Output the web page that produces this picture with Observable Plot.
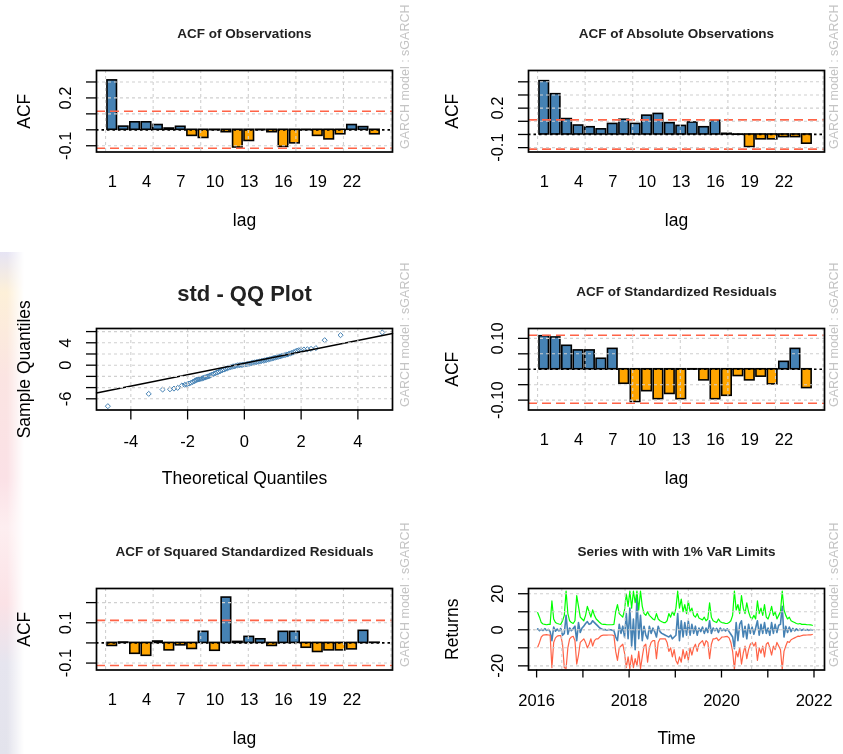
<!DOCTYPE html>
<html><head><meta charset="utf-8">
<script src="https://cdn.jsdelivr.net/npm/d3@7"></script>
<script src="https://cdn.jsdelivr.net/npm/@observablehq/plot@0.6"></script>
<style>
html,body{margin:0;padding:0;background:#fff;overflow:hidden}
#wrap{position:relative;width:843px;height:754px;overflow:hidden;background:#fff;filter:blur(0.3px)}
.panel{position:absolute}
.panel svg{overflow:visible;max-width:none !important}
#edge{position:absolute;left:0;top:252px;width:24px;height:502px;
 background:linear-gradient(#e6e4f4 0%,#fdf0d8 8%,#fbe4e2 25%,#fbe1e6 45%,#fdeef0 55%,#fbe2e6 70%,#e6e5ef 82%,#e3e3ec 100%);
 -webkit-mask-image:linear-gradient(to right,#000 30%,transparent);mask-image:linear-gradient(to right,#000 30%,transparent)}
</style></head><body><div id="wrap"><div id="edge"></div></div>
<script>
// ---------- data ----------
const lags = [1,2,3,4,5,6,7,8,9,10,11,12,13,14,15,16,17,18,19,20,21,22,23,24];
const lagLabels = [1,4,7,10,13,16,19,22];

const acfObs = [0.31,0.02,0.047,0.047,0.03,0.008,0.019,-0.038,-0.051,-0.002,-0.015,-0.111,-0.07,-0.002,-0.015,-0.107,-0.085,-0.002,-0.038,-0.06,-0.028,0.03,0.017,-0.028];
const acfAbs = [0.405,0.306,0.117,0.068,0.055,0.039,0.08,0.112,0.08,0.143,0.156,0.086,0.065,0.091,0.055,0.104,0.005,-0.002,-0.096,-0.037,-0.037,-0.02,-0.02,-0.07];
const acfStd = [0.107,0.103,0.076,0.061,0.061,0.034,0.066,-0.047,-0.106,-0.071,-0.097,-0.08,-0.097,-0.001,-0.036,-0.097,-0.086,-0.022,-0.036,-0.024,-0.049,0.024,0.066,-0.061];
const acfSq  = [-0.015,0.002,-0.054,-0.064,0.007,-0.037,-0.012,-0.03,0.055,-0.039,0.225,0.005,0.03,0.018,-0.015,0.055,0.055,-0.024,-0.045,-0.037,-0.037,-0.032,0.06,0.001];
const confObs = 0.116, confAbs = 0.111, confStd = 0.110, confSq = 0.112;

const acfObsTicks = [-0.1,0,0.1,0.2,0.3], acfObsLabVals = [-0.1,0.2], acfObsLabs = ["-0.1","0.2"];
const acfAbsTicks = [-0.1,0,0.1,0.2,0.3,0.4], acfAbsLabVals = [-0.1,0.2], acfAbsLabs = ["-0.1","0.2"];
const acfStdTicks = [-0.1,-0.05,0,0.05,0.1], acfStdLabVals = [-0.1,0.1], acfStdLabs = ["-0.10","0.10"];
const acfSqTicks = [-0.1,0,0.1,0.2], acfSqLabVals = [-0.1,0.1], acfSqLabs = ["-0.1","0.1"];

// QQ plot (theoretical vs sample quantiles)
const qqTheo = [-4.81,-3.37,-2.88,-2.62,-2.48,-2.35,-2.2,-2.1,-2.02,-1.95,-1.88,-1.82,-1.76,-1.72,-1.68,-1.64,-1.6,-1.56,-1.52,-1.48,-1.44,-1.4,-1.36,-1.32,-1.28,-1.24,-1.2,-1.14,-1.08,-1.02,-0.96,-0.9,-0.84,-0.78,-0.72,-0.66,-0.6,-0.54,-0.48,-0.42,-0.36,-0.3,-0.24,-0.18,-0.12,-0.06,0,0.06,0.12,0.18,0.24,0.3,0.36,0.42,0.48,0.54,0.6,0.66,0.72,0.78,0.84,0.9,0.96,1.02,1.08,1.14,1.2,1.26,1.32,1.38,1.44,1.5,1.56,1.62,1.68,1.74,1.8,1.86,1.92,2.0,2.1,2.22,2.35,2.52,2.83,3.39,4.86];
const qqSample = [-7.32,-5.12,-4.35,-4.3,-4.18,-4.05,-3.62,-3.5,-3.4,-3.28,-3.15,-3.0,-2.85,-2.7,-2.62,-2.55,-2.5,-2.45,-2.4,-2.35,-2.28,-2.22,-2.15,-2.08,-2.0,-1.92,-1.82,-1.7,-1.57,-1.43,-1.3,-1.17,-1.04,-0.9,-0.78,-0.66,-0.55,-0.45,-0.36,-0.27,-0.2,-0.12,-0.04,0.0,0.03,0.07,0.11,0.16,0.22,0.29,0.37,0.43,0.49,0.55,0.6,0.67,0.74,0.8,0.87,0.94,1.01,1.08,1.17,1.26,1.33,1.41,1.5,1.58,1.66,1.74,1.82,1.9,2.0,2.1,2.2,2.3,2.45,2.6,2.68,2.75,2.8,2.85,2.92,3.05,4.46,5.36,5.84];
const qqLineIntercept = 0.35, qqLineSlope = 1.017;
const qqXDomain = [-5.21,5.22], qqYDomain = [-8.0,6.55];
const qqXTicks = [-4,-2,0,2,4], qqXLabs = ["-4","-2","0","2","4"];
const qqYTicks = [-6,-4,-2,0,2,4,6], qqYLabVals = [-6,0,4], qqYLabs = ["-6","0","4"];

// Series with VaR limits (bi-weekly samples)
const seriesStart = Date.UTC(2016,0,10), seriesStepDays = 14;
const retSeries = [0.5,-0.5,0.3,-0.4,0.6,-0.3,0.2,-1.0,-6,1.5,
 -0.8,0.4,-0.6,0.8,-3,-2,8,-2.5,1,-0.5,
 0.7,2,-6,4,-1.5,1,2,3.5,4.5,3,
 3.5,5,4,3,2,1,0.5,0,0.2,-0.2,
 0.1,0,-0.2,-0.5,-4,-6,3,-2,2,-4,
 9,-5,12,-9,6,-11,19,-5,8,-6,
 2,-3,-5,2,-2,1,-1,-4,2,-1,
 -2,-2.5,-3,-3.5,-4,-3,-5,-4,-3,9,
 -6,5,-4,4,-3,5,-3,3,-2,2,
 -3,1,-1,1.5,-2,1,-1.5,5,-2,1,
 -0.5,0.8,-1.5,1,-0.5,0.4,-0.6,0.5,-1,-2.5,
 -4,-10.5,4,-6,3,5,-4,2,-5,3,
 -2,1.5,-2.5,1,5,-3,3,-2,4,-2,
 1,-3,4,-2,3,-1.5,2.5,3,13,-4,
 2,-1.5,1.5,-1,0.8,-0.6,0.5,-0.3,0.4,-0.3,
 0.3,-0.2,0.2,-0.3,0.2,-0.1];
const varUpper = [9.5,7,4,3.2,3.0,2.8,3.0,3.0,16,6,
 4,3.5,3.2,3.0,5,8,21.5,9,5,4,
 3.5,5,19,13,7,6,5,8,13,10,
 7,11,8,6,5,4,3.2,3.0,3.0,2.8,
 2.8,2.8,2.8,3.0,10,14,9,8,7,11,
 20,13,21.5,12,21.5,15,21.5,11,21.5,13,
 9,8,10,8,7,6,5.5,9,6,5,
 4.5,4,4,5,9,7,10,8,12,21.5,
 12,17,10,14,9,16,10,12,8,7,
 9,6.5,6,5.5,7,5,6,15,7,5,
 4.5,4,6,4.5,4,3.8,3.5,3.5,4,5,
 8,21.5,11,14,9,19,12,9,15,10,
 7,6,8,6,16,9,12,8,14,7,
 6,9,13,8,10,6,8,10,21.5,11,
 8,6,7,5,4.5,4,3.5,3.2,3.5,3.0,
 3.0,3.0,2.8,2.8,2.7,2.5];
const varLower = [-9.5,-7,-4,-3.0,-2.8,-2.7,-2.9,-3.0,-21,-7,
 -4.5,-3.5,-3.2,-3.2,-8,-21,-21.5,-10,-5,-4,
 -3.6,-6,-19,-14,-7,-6,-5,-7,-10,-8,
 -5,-9,-6,-5,-5,-4,-3.2,-3.0,-3.0,-3.0,
 -2.9,-2.9,-2.9,-3.2,-12,-17,-10,-9,-8,-13,
 -21,-15,-21.5,-14,-21,-16,-20,-12,-21.5,-15,
 -9,-8,-18,-10,-7,-6,-6,-16,-7,-5,
 -5,-5,-5,-7,-12,-10,-15,-11,-17,-19,
 -15,-18,-11,-16,-12,-17,-10,-14,-10,-8,
 -12,-8,-7,-6,-9,-6,-7,-16,-8,-5,
 -5,-4.5,-6,-5,-4,-4,-3.8,-3.7,-4.5,-7,
 -12,-22,-12,-15,-10,-19,-13,-9,-16,-11,
 -8,-7,-9,-7,-17,-10,-13,-9,-15,-8,
 -7,-10,-14,-9,-11,-7,-9,-11,-22,-12,
 -9,-6.5,-7,-5.5,-5,-4.5,-4,-3.5,-3.6,-3.2,
 -3.0,-3.0,-2.9,-2.8,-2.8,-2.6];
const tsXDomain = [Date.UTC(2015,9,29), Date.UTC(2022,2,25)];
const tsYDomain = [-22.3, 22.9];
const yearTicks = [2016,2017,2018,2019,2020,2021,2022];
const yearLabels = ["2016","","2018","","2020","","2022"];
const tsGridDays = [17000,17500,18000,18500,19000];
const tsYTicks = [-20,-10,0,10,20], tsYLabVals = [-20,0,20], tsYLabs = ["-20","0","20"];

const WATERMARK = "GARCH model : sGARCH";

// ---------- layout ----------
const FONT = '"Liberation Sans", Arial, Helvetica, sans-serif';
const W = 415, ML = 96, BW = 296, MT = 70, BH = 81.5, H = 236;
const rowTop = [0, 258, 518], colLeft = [0, 432];
const GRID = {stroke: "#d0d0d0", strokeDasharray: "3,3", strokeWidth: 1.1};

function base() {
  return {width: W, height: H, marginLeft: ML, marginRight: W - ML - BW, marginTop: MT, marginBottom: H - MT - BH,
    style: {fontFamily: FONT, fontSize: "16.5px", background: "transparent", color: "black", overflow: "visible"}};
}
function decor({title, titleSize = 13.5, titleDy = -42, xlab, ylab, col}) {
  return [
    Plot.text([title], {text: d => d, frameAnchor: "top", dy: titleDy, fontWeight: "bold", fontSize: titleSize, fill: "#222"}),
    Plot.text([xlab], {text: d => d, frameAnchor: "bottom", dy: 74, fontSize: 17.5}),
    Plot.text([ylab], {text: d => d, frameAnchor: "left", dx: col === 0 ? -72 : -76, rotate: -90, textAnchor: "middle", fontSize: 17.5}),
    Plot.text([WATERMARK], {text: d => d, frameAnchor: "bottom-right", dx: col === 0 ? 16 : 13, dy: -3, rotate: -90, textAnchor: "start", fill: "#c4c4c4", fontSize: 12.5})
  ];
}
function yAxis(ticks, labVals, labs) {
  return [
    Plot.axisY(ticks, {tickSize: 10, strokeWidth: 1.3, tickFormat: () => "", label: null}),
    Plot.axisY(labVals, {tickSize: 0, tickPadding: 31, tickRotate: -90, lineAnchor: "middle", textAnchor: "middle", tickFormat: d => labs[labVals.indexOf(d)], label: null})
  ];
}
function place(el, row, col) {
  const div = document.createElement("div");
  div.className = "panel";
  div.style.left = colLeft[col] + "px";
  div.style.top = rowTop[row] + "px";
  div.style.width = W + "px";
  div.appendChild(el);
  document.getElementById("wrap").appendChild(div);
}

function acfPanel({title, values, conf, ticks, labVals, labs, row, col}) {
  const pos = l => 0.7 + 1.2 * (l - 1);
  const data = lags.map((lag, i) => ({lag, p: pos(lag), v: values[i]}));
  const ext = d3.extent([...values, conf, -conf]);
  const n = lags.length;
  const xDomain = [0.2 - 0.04 * 1.2 * n, 0.2 + 1.2 * n + 0.04 * 1.2 * n];
  const gridX = d3.ticks(xDomain[0], xDomain[1], 6);
  const svg = Plot.plot({
    ...base(),
    x: {domain: xDomain, axis: null},
    y: {domain: [1.2 * ext[0], 1.2 * ext[1]], axis: null},
    marks: [
      Plot.rect(data, {x1: d => d.p - 0.5, x2: d => d.p + 0.5, y1: 0, y2: "v",
        fill: d => d.v >= 0 ? "steelblue" : "orange", stroke: "black", strokeWidth: 1.6}),
      Plot.ruleY([conf, -conf], {stroke: "#FF6347", strokeDasharray: "9,5", strokeWidth: 1.6}),
      Plot.ruleY([0], {stroke: "black", strokeDasharray: "2.5,3", strokeWidth: 1.7}),
      Plot.ruleX(gridX, GRID),
      Plot.ruleY(ticks.filter(t => t !== 0), GRID),
      Plot.frame({stroke: "black", strokeWidth: 1.7}),
      Plot.axisX(lagLabels.map(pos), {tickSize: 0, tickPadding: 23, tickFormat: d => String(Math.round((d - 0.7) / 1.2 + 1)), label: null}),
      ...yAxis(ticks, labVals, labs),
      ...decor({title, xlab: "lag", ylab: "ACF", col})
    ]
  });
  place(svg, row, col);
}

acfPanel({title: "ACF of Observations", values: acfObs, conf: confObs, ticks: acfObsTicks, labVals: acfObsLabVals, labs: acfObsLabs, row: 0, col: 0});
acfPanel({title: "ACF of Absolute Observations", values: acfAbs, conf: confAbs, ticks: acfAbsTicks, labVals: acfAbsLabVals, labs: acfAbsLabs, row: 0, col: 1});
acfPanel({title: "ACF of Standardized Residuals", values: acfStd, conf: confStd, ticks: acfStdTicks, labVals: acfStdLabVals, labs: acfStdLabs, row: 1, col: 1});
acfPanel({title: "ACF of Squared Standardized Residuals", values: acfSq, conf: confSq, ticks: acfSqTicks, labVals: acfSqLabVals, labs: acfSqLabs, row: 2, col: 0});

// QQ plot
{
  const pts = qqTheo.map((x, i) => ({x, y: qqSample[i]}));
  const lineEnds = qqXDomain.map(x => ({x, y: qqLineIntercept + qqLineSlope * x}));
  const svg = Plot.plot({
    ...base(),
    x: {domain: qqXDomain, axis: null},
    y: {domain: qqYDomain, axis: null},
    marks: [
      Plot.dot(pts, {x: "x", y: "y", symbol: "diamond2", r: 2.3, stroke: "steelblue", fill: "none", strokeWidth: 1}),
      Plot.line(lineEnds, {x: "x", y: "y", stroke: "black", strokeWidth: 1.5}),
      Plot.ruleX(qqXTicks, GRID),
      Plot.ruleY(qqYTicks, GRID),
      Plot.frame({stroke: "black", strokeWidth: 1.7}),
      Plot.axisX(qqXTicks, {tickSize: 10, strokeWidth: 1.3, tickPadding: 15, tickFormat: d => qqXLabs[qqXTicks.indexOf(d)], label: null}),
      ...yAxis(qqYTicks, qqYLabVals, qqYLabs),
      ...decor({title: "std - QQ Plot", titleSize: 22, titleDy: -43, xlab: "Theoretical Quantiles", ylab: "Sample Quantiles", col: 0})
    ]
  });
  place(svg, 1, 0);
}

// Series with VaR limits
{
  const ts = retSeries.map((r, i) => ({date: new Date(seriesStart + i * seriesStepDays * 864e5), r, up: varUpper[i], lo: varLower[i]}));
  const yT = yearTicks.map(y => new Date(Date.UTC(y, 0, 1)));
  const svg = Plot.plot({
    ...base(),
    x: {type: "utc", domain: tsXDomain.map(t => new Date(t)), axis: null},
    y: {domain: tsYDomain, axis: null},
    marks: [
      Plot.line(ts, {x: "date", y: "r", stroke: "steelblue", strokeWidth: 1.6}),
      Plot.line(ts, {x: "date", y: "lo", stroke: "#FF6347", strokeWidth: 1.2}),
      Plot.line(ts, {x: "date", y: "up", stroke: "#00FF00", strokeWidth: 1.2}),
      Plot.ruleY([0], {stroke: "#bebebe", strokeDasharray: "2,3"}),
      Plot.ruleX(tsGridDays.map(d => new Date(d * 864e5)), GRID),
      Plot.ruleY(tsYTicks, GRID),
      Plot.frame({stroke: "black", strokeWidth: 1.7}),
      Plot.axisX(yT, {tickSize: 8, strokeWidth: 1.3, tickPadding: 16, tickFormat: d => yearLabels[yearTicks.indexOf(d.getUTCFullYear())], label: null}),
      ...yAxis(tsYTicks, tsYLabVals, tsYLabs),
      ...decor({title: "Series with with 1% VaR Limits", xlab: "Time", ylab: "Returns", col: 1})
    ]
  });
  place(svg, 2, 1);
}
</script></body></html>
